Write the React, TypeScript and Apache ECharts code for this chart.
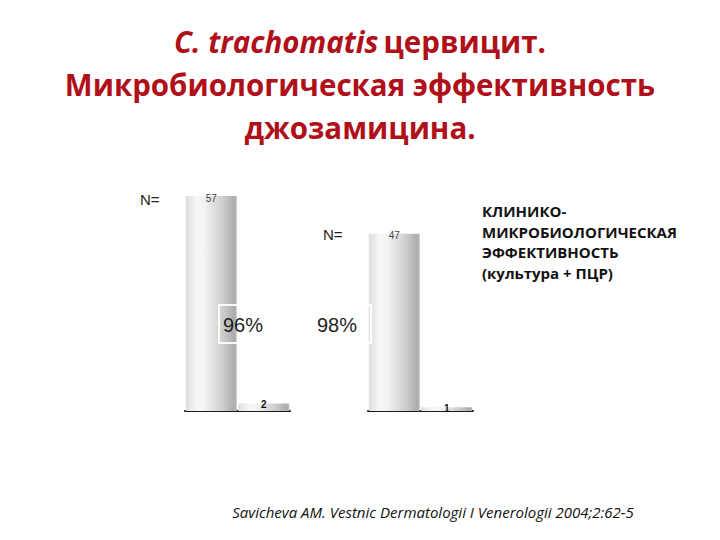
import React, { useEffect, useRef } from "react";
import * as echarts from "echarts";

const groupTotals = [57, 47];
const groupFails = [2, 1];
const efficacyLabels = ["96%", "98%"];
const categories = ["Всего", "Неудача"];
const infoLines = ["КЛИНИКО-", "МИКРОБИОЛОГИЧЕСКАЯ", "ЭФФЕКТИВНОСТЬ", "(культура + ПЦР)"];
const citation = "Savicheva AM. Vestnic Dermatologii I Venerologii 2004;2:62-5";

const Y_MAX = 57;

const barGradient = () =>
  new echarts.graphic.LinearGradient(0, 0, 1, 0, [
    { offset: 0, color: "#dedede" },
    { offset: 0.22, color: "#f7f7f7" },
    { offset: 0.38, color: "#f2f2f2" },
    { offset: 0.75, color: "#cacaca" },
    { offset: 0.95, color: "#acacac" },
    { offset: 1, color: "#bdbdbd" },
  ]);

export default function App() {
  const ref = useRef<HTMLDivElement>(null);

  useEffect(() => {
    if (!ref.current) return;
    const chart = echarts.init(ref.current, null, { renderer: "svg" });
    const gridLefts = [185, 368];

    const grids = gridLefts.map((l) => ({ left: l, width: 105, top: 196, height: 215 }));
    const xAxes = gridLefts.map((_, i) => ({
      type: "category",
      gridIndex: i,
      data: categories,
      axisLine: { show: true, lineStyle: { color: "#1c1c1c", width: 2 } },
      axisTick: { show: false },
      axisLabel: { show: false },
    }));
    const yAxes = gridLefts.map((_, i) => ({
      type: "value",
      gridIndex: i,
      min: 0,
      max: Y_MAX,
      show: false,
      splitLine: { show: false },
    }));
    const series = groupTotals.map((total, i) => ({
      type: "bar",
      xAxisIndex: i,
      yAxisIndex: i,
      barWidth: 51,
      itemStyle: { color: barGradient() },
      data: [
        {
          value: total,
          label: {
            show: true,
            position: "top",
            distance: -7,
            color: "#444",
            fontSize: 10,
            fontFamily: "Liberation Sans",
          },
        },
        {
          value: groupFails[i],
          label: {
            show: true,
            position: "top",
            distance: -6,
            color: "#111",
            fontSize: 10,
            fontWeight: "bold",
            fontFamily: "Liberation Sans",
          },
        },
      ],
    }));

    const nPositions = [
      [140, 199],
      [323, 234],
    ];
    const pctCenters = [
      [243, 325],
      [337, 325],
    ];
    const pctBoxes = [
      [219, 305, 44, 38],
      [313, 305, 58, 38],
    ];

    const graphics: any[] = [];
    pctBoxes.forEach((b) => {
      graphics.push({
        type: "rect",
        shape: { x: b[0], y: b[1], width: b[2], height: b[3] },
        style: { fill: "none", stroke: "#ffffff", lineWidth: 2, opacity: 0.9 },
        z: 10,
      });
    });
    efficacyLabels.forEach((t, i) => {
      graphics.push({
        type: "text",
        x: pctCenters[i][0],
        y: pctCenters[i][1],
        style: {
          text: t,
          fill: "#1e1e1e",
          font: "20px 'Liberation Sans'",
          align: "center",
          verticalAlign: "middle",
        },
        z: 11,
      });
    });
    nPositions.forEach((p) => {
      graphics.push({
        type: "text",
        x: p[0],
        y: p[1],
        style: {
          text: "N=",
          fill: "#222",
          font: "15px 'Liberation Sans'",
          align: "left",
          verticalAlign: "middle",
        },
      });
    });
    infoLines.forEach((t, i) => {
      graphics.push({
        type: "text",
        x: 482,
        y: 211 + i * 20.7,
        style: {
          text: t,
          fill: "#111",
          font: "bold 15px 'Open Sans'",
          align: "left",
          verticalAlign: "middle",
        },
      });
    });
    graphics.push({
      type: "text",
      x: 433,
      y: 512,
      style: {
        text: citation,
        fill: "#111",
        font: "italic 15px 'Open Sans'",
        align: "center",
        verticalAlign: "middle",
      },
    });

    chart.setOption({
      animation: false,
      backgroundColor: "#ffffff",
      title: {
        left: "center",
        top: 20,
        padding: 0,
        text:
          "{i|C. trachomatis} {n|цервицит.}\n{n|Микробиологическая эффективность}\n{n|джозамицина.}",
        textStyle: {
          rich: {
            i: {
              fontStyle: "italic",
              fontWeight: "bold",
              fontSize: 29.5,
              fontFamily: "Open Sans",
              color: "#b0101a",
              lineHeight: 43,
            },
            n: {
              fontWeight: "bold",
              fontSize: 29.5,
              fontFamily: "Open Sans",
              color: "#b0101a",
              lineHeight: 43,
            },
          },
        },
      },
      grid: grids,
      xAxis: xAxes,
      yAxis: yAxes,
      series,
      graphic: graphics,
    } as any);

    return () => chart.dispose();
  }, []);

  return (
    <div
      ref={ref}
      style={{ position: "fixed", left: 0, top: 0, width: 720, height: 540 }}
    />
  );
}
